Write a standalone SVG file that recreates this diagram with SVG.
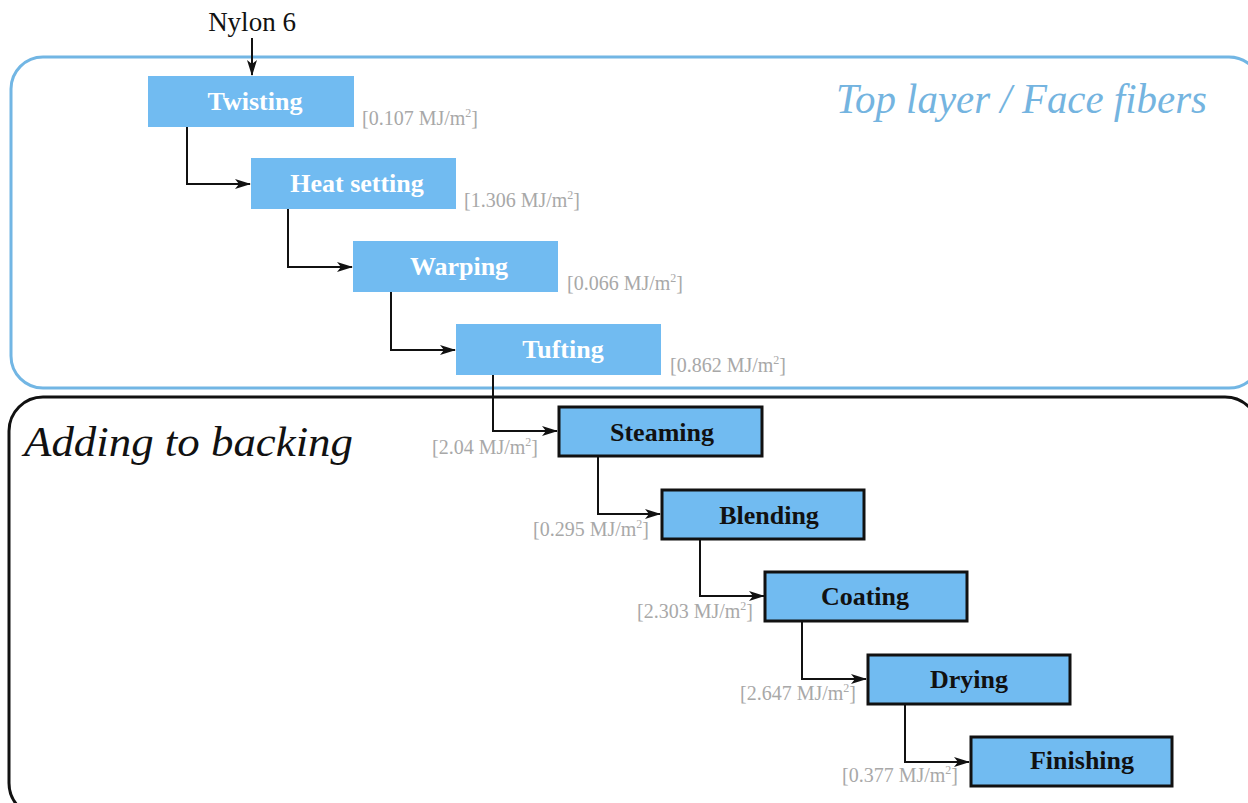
<svg xmlns="http://www.w3.org/2000/svg" width="1248" height="803" viewBox="0 0 1248 803">
<style>
.node{fill:#71bbf1}
.nb{stroke:#111;stroke-width:3}
.lt{font-family:"Liberation Serif",serif;font-weight:bold;font-size:26px;text-anchor:middle}
.w{fill:#ffffff}
.k{fill:#111}
.e{font-family:"Liberation Serif",serif;font-size:20px;fill:#a8a8a8}
.c{fill:none;stroke:#111;stroke-width:2}
.title{font-family:"Liberation Serif",serif;font-style:italic;font-size:42px}
</style>
<defs>
<marker id="ah" markerWidth="16" markerHeight="10" refX="15" refY="5" orient="auto" markerUnits="userSpaceOnUse">
<path d="M0,0 L16,5 L0,10 L4,5 Z" fill="#111"/>
</marker>
</defs>
<rect width="1248" height="803" fill="#ffffff"/>
<g id="group-top">
<rect x="11" y="57" width="1250" height="331" rx="32" fill="none" stroke="#72b6e4" stroke-width="3"/>
<text class="title" x="836" y="113" fill="#74b4e0" textLength="371" lengthAdjust="spacingAndGlyphs">Top layer / Face fibers</text>
</g>
<g id="group-bottom">
<rect x="9" y="397" width="1250" height="420" rx="34" fill="none" stroke="#111" stroke-width="3"/>
<text class="title" x="24" y="456" fill="#111" textLength="329" lengthAdjust="spacingAndGlyphs">Adding to backing</text>
</g>
<g id="input">
<text x="252" y="31" font-family="Liberation Serif,serif" font-size="27" text-anchor="middle" fill="#111">Nylon 6</text>
</g>
<g id="connectors">
<path class="c" d="M252,38 V75" marker-end="url(#ah)"/>
<path class="c" d="M187,127 V184 H250" marker-end="url(#ah)"/>
<path class="c" d="M288,209 V267 H352" marker-end="url(#ah)"/>
<path class="c" d="M391,292 V350 H455" marker-end="url(#ah)"/>
<path class="c" d="M493,375 V431 H557" marker-end="url(#ah)"/>
<path class="c" d="M598,457 V514 H660" marker-end="url(#ah)"/>
<path class="c" d="M700,540 V596 H764" marker-end="url(#ah)"/>
<path class="c" d="M802,622 V679 H866" marker-end="url(#ah)"/>
<path class="c" d="M905,705 V762 H969" marker-end="url(#ah)"/>
</g>
<g id="twisting">
<rect class="node" x="148" y="76" width="206" height="51"/>
<text class="lt w" x="255" y="110">Twisting</text>
<text class="e" x="362" y="125">[0.107 MJ/m<tspan font-size="12" dy="-8">2</tspan><tspan dy="8">]</tspan></text>
</g>
<g id="heat-setting">
<rect class="node" x="251" y="158" width="205" height="51"/>
<text class="lt w" x="357" y="192">Heat setting</text>
<text class="e" x="464" y="207">[1.306 MJ/m<tspan font-size="12" dy="-8">2</tspan><tspan dy="8">]</tspan></text>
</g>
<g id="warping">
<rect class="node" x="353" y="241" width="205" height="51"/>
<text class="lt w" x="459" y="275">Warping</text>
<text class="e" x="567" y="290">[0.066 MJ/m<tspan font-size="12" dy="-8">2</tspan><tspan dy="8">]</tspan></text>
</g>
<g id="tufting">
<rect class="node" x="456" y="324" width="205" height="51"/>
<text class="lt w" x="563" y="358">Tufting</text>
<text class="e" x="670" y="372">[0.862 MJ/m<tspan font-size="12" dy="-8">2</tspan><tspan dy="8">]</tspan></text>
</g>
<g id="steaming">
<rect class="node nb" x="559" y="407" width="203" height="49"/>
<text class="lt k" x="662" y="441">Steaming</text>
<text class="e" x="432" y="454">[2.04 MJ/m<tspan font-size="12" dy="-8">2</tspan><tspan dy="8">]</tspan></text>
</g>
<g id="blending">
<rect class="node nb" x="662" y="490" width="202" height="49"/>
<text class="lt k" x="769" y="524">Blending</text>
<text class="e" x="533" y="536">[0.295 MJ/m<tspan font-size="12" dy="-8">2</tspan><tspan dy="8">]</tspan></text>
</g>
<g id="coating">
<rect class="node nb" x="765" y="572" width="202" height="49"/>
<text class="lt k" x="865" y="605">Coating</text>
<text class="e" x="637" y="618">[2.303 MJ/m<tspan font-size="12" dy="-8">2</tspan><tspan dy="8">]</tspan></text>
</g>
<g id="drying">
<rect class="node nb" x="868" y="655" width="202" height="49"/>
<text class="lt k" x="969" y="688">Drying</text>
<text class="e" x="740" y="700">[2.647 MJ/m<tspan font-size="12" dy="-8">2</tspan><tspan dy="8">]</tspan></text>
</g>
<g id="finishing">
<rect class="node nb" x="971" y="737" width="201" height="49"/>
<text class="lt k" x="1082" y="769">Finishing</text>
<text class="e" x="842" y="782">[0.377 MJ/m<tspan font-size="12" dy="-8">2</tspan><tspan dy="8">]</tspan></text>
</g>
</svg>
